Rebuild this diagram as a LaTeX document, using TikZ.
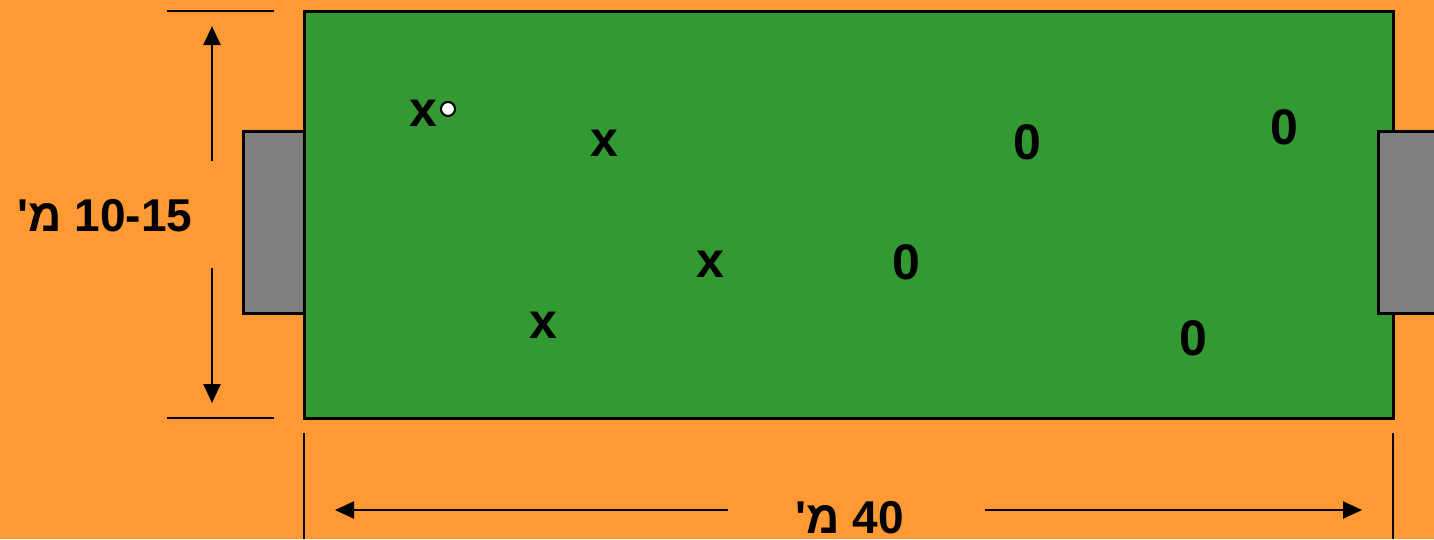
\documentclass[tikz,border=0pt]{standalone}
\usepackage{fontspec}
\setmainfont{Liberation Sans}
\newfontfamily\hebfont[Script=Hebrew]{Liberation Sans}
\TeXXeTstate=1
\usetikzlibrary{arrows.meta}
\definecolor{pitchOrange}{HTML}{FF9933}
\definecolor{fieldGreen}{HTML}{339933}
\definecolor{goalGrey}{HTML}{808080}

\begin{document}
\begin{tikzpicture}[x=1pt,y=-1pt,
    dimarrow/.style={line width=2.5pt,-{Triangle[length=19pt,width=17pt]}},
    tickline/.style={line width=2.5pt},
    player/.style={inner sep=0pt,font=\fontsize{50}{54}\selectfont\bfseries},
    dimlabel/.style={inner sep=0pt,font=\hebfont\fontsize{46}{50}\selectfont\bfseries},
    goalbox/.style={fill=goalGrey,draw=black,line width=3pt}]
    \fill[pitchOrange] (0,0) rectangle (1434,539);
    \useasboundingbox (0,0) rectangle (1434,539);
    % goals and field
    \draw[goalbox] (243,131) rectangle (304,313);
    \draw[fill=fieldGreen,line width=3pt] (304,11) rectangle (1393,418);
    \draw[goalbox] (1378,131) rectangle (1445,313);
    % players
    \node[player] (xOne) at (423,113) {x};
    \node[player] (xTwo) at (604,143) {x};
    \node[player] (xThree) at (710,264) {x};
    \node[player] (xFour) at (543,325) {x};
    \node[player] (oOne) at (1027,142) {0};
    \node[player] (oTwo) at (1284,127) {0};
    \node[player] (oThree) at (906,262) {0};
    \node[player] (oFour) at (1193,338) {0};
    \draw[fill=white,line width=2pt] (448,109) circle (7);
    % width dimension
    \coordinate (wTopA) at (167,11);
    \coordinate (wTopB) at (274,11);
    \coordinate (wBotA) at (167,418);
    \coordinate (wBotB) at (274,418);
    \draw[tickline] (wTopA) -- (wTopB);
    \draw[tickline] (wBotA) -- (wBotB);
    \coordinate (wUpFrom) at (212,161);
    \coordinate (wUpTo) at (212,26);
    \coordinate (wDownFrom) at (212,268);
    \coordinate (wDownTo) at (212,403);
    \draw[dimarrow] (wUpFrom) -- (wUpTo);
    \draw[dimarrow] (wDownFrom) -- (wDownTo);
    \node[dimlabel] (widthLabel) at (105,216) {\beginR\beginL 10-15\endL{} מ'\endR};
    % length dimension
    \coordinate (lLeftA) at (304,433);
    \coordinate (lLeftB) at (304,539);
    \coordinate (lRightA) at (1393,433);
    \coordinate (lRightB) at (1393,539);
    \draw[tickline] (lLeftA) -- (lLeftB);
    \draw[tickline] (lRightA) -- (lRightB);
    \coordinate (lLeftFrom) at (728,510);
    \coordinate (lLeftTo) at (335,510);
    \coordinate (lRightFrom) at (985,510);
    \coordinate (lRightTo) at (1362,510);
    \draw[dimarrow] (lLeftFrom) -- (lLeftTo);
    \draw[dimarrow] (lRightFrom) -- (lRightTo);
    \node[dimlabel] (lengthLabel) at (850,518) {\beginR\beginL 40\endL{} מ'\endR};
\end{tikzpicture}
\end{document}
